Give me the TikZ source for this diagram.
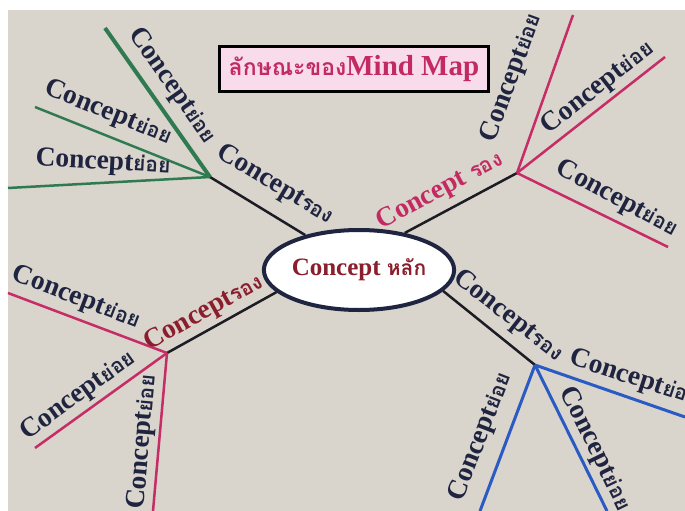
\documentclass[tikz,border=0pt]{standalone}
\usepackage{fontspec}
\setmainfont{Liberation Serif}
\newfontfamily\thaifont[Script=Thai]{Loma}
\usetikzlibrary{shapes.geometric}
\definecolor{bgc}{HTML}{D9D4CC}
\definecolor{navy}{HTML}{1F2440}
\definecolor{darkred}{HTML}{8A1E2C}
\definecolor{crimson}{HTML}{C42A62}
\definecolor{titlepink}{HTML}{F9DCEB}
\definecolor{grn}{HTML}{2F7A50}
\definecolor{pnk}{HTML}{C62C66}
\definecolor{blu}{HTML}{2A5BC4}
\definecolor{blk}{HTML}{1C1C24}
\newcommand\thp[1]{{\thaifont\fontsize{21}{24}\selectfont #1}}
\begin{document}
\begin{tikzpicture}[x=1pt,y=-1pt,
  lbl/.style={font=\fontsize{27.5}{30}\selectfont\bfseries, text=navy, inner sep=0pt},
  blkline/.style={draw=blk, line width=2.5pt},
  grnline/.style={draw=grn, line width=2.5pt},
  pnkline/.style={draw=pnk, line width=2.5pt},
  bluline/.style={draw=blu, line width=3pt}]
\useasboundingbox (0,0) rectangle (685,511);
\fill[white] (0,0) rectangle (685,511);
\fill[bgc] (8,10) rectangle (685,511);

% hubs and ends
\coordinate (ulhub) at (210,177);
\coordinate (ul1) at (105,28);
\coordinate (ul2) at (35,107);
\coordinate (ul3) at (8,188);
\coordinate (urhub) at (517,173);
\coordinate (ur1) at (573,15);
\coordinate (ur2) at (665,57);
\coordinate (ur3) at (668,247);
\coordinate (llhub) at (167,353);
\coordinate (ll1) at (8,293);
\coordinate (ll2) at (35,448);
\coordinate (ll3) at (153,511);
\coordinate (lrhub) at (535,365);
\coordinate (lr1) at (685,417);
\coordinate (lr2) at (480,511);
\coordinate (lr3) at (607,511);

% central node
\node[ellipse, draw=navy, line width=4pt, fill=white, minimum width=180pt, minimum height=80pt,
  inner sep=0pt, font=\fontsize{25}{30}\selectfont\bfseries, text=darkred] (main) at (359,270)
  {Concept \thp{หลัก}};

% title
\node[draw=black, line width=3pt, fill=titlepink, minimum width=269pt, minimum height=45pt,
  font=\fontsize{29}{34}\selectfont\bfseries, text=crimson, inner sep=0pt] (title) at (354,69)
  {{\thaifont\fontsize{23}{30}\selectfont ลักษณะของ}Mind Map};

% branches
\draw[blkline] (main.147) -- (ulhub);
\draw[grnline, line width=4pt] (ulhub) -- (ul1);
\draw[grnline] (ulhub) -- (ul2);
\draw[grnline] (ulhub) -- (ul3);

\draw[blkline] (main.39) -- (urhub);
\draw[pnkline] (urhub) -- (ur1);
\draw[pnkline] (urhub) -- (ur2);
\draw[pnkline] (urhub) -- (ur3);

\draw[blkline] (main.195) -- (llhub);
\draw[pnkline] (llhub) -- (ll1);
\draw[pnkline] (llhub) -- (ll2);
\draw[pnkline] (llhub) -- (ll3);

\draw[blkline] (main.-14) -- (lrhub);
\draw[bluline] (lrhub) -- (lr1);
\draw[bluline] (lrhub) -- (lr2);
\draw[bluline] (lrhub) -- (lr3);

% labels
\node[lbl, rotate=-31] (l0) at (275,185) {Concept\thp{รอง}};
\node[lbl, rotate=-55] (l1) at (172,86) {Concept\thp{ย่อย}};
\node[lbl, rotate=-22] (l2) at (108,113) {Concept\thp{ย่อย}};
\node[lbl, rotate=-3] (l3) at (103,163) {Concept\thp{ย่อย}};

\node[lbl, rotate=28, text=crimson] (r0) at (440,191) {Concept \thp{รอง}};
\node[lbl, rotate=70] (r1) at (512,78) {Concept\thp{ย่อย}};
\node[lbl, rotate=38] (r2) at (598,88) {Concept\thp{ย่อย}};
\node[lbl, rotate=-28] (r3) at (617,199) {Concept\thp{ย่อย}};

\node[lbl, rotate=29, text=darkred] (b0) at (204,313) {Concept\thp{รอง}};
\node[lbl, rotate=-21] (b1) at (76,298) {Concept\thp{ย่อย}};
\node[lbl, rotate=36] (b2) at (78,396) {Concept\thp{ย่อย}};
\node[lbl, rotate=85] (b3) at (143,442) {Concept\thp{ย่อย}};

\node[lbl, rotate=-38] (d0) at (508,316) {Concept\thp{รอง}};
\node[lbl, rotate=-18, anchor=west] (d1) at (570,358) {Concept\thp{ย่อย}};
\node[lbl, rotate=69] (d2) at (481,437) {Concept\thp{ย่อย}};
\node[lbl, rotate=-64] (d3) at (595,449) {Concept\thp{ย่อย}};
\end{tikzpicture}
\end{document}
